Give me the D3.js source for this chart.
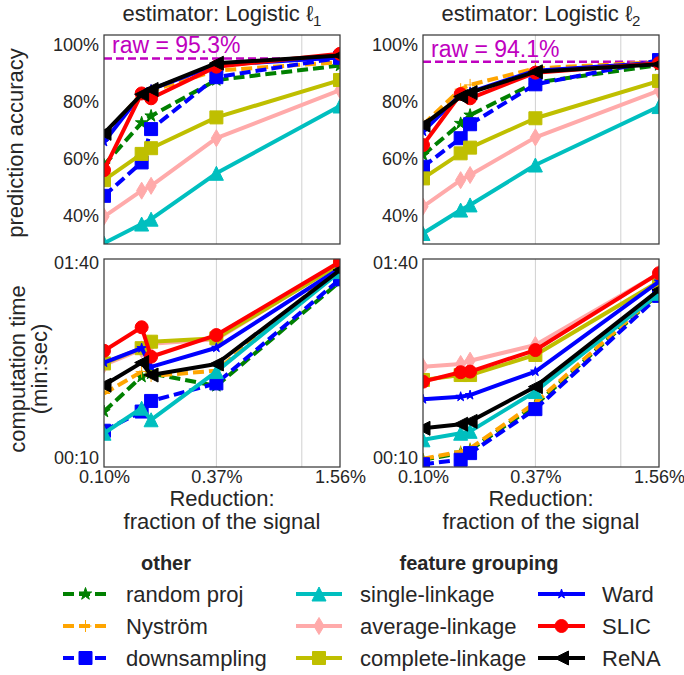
<!DOCTYPE html>
<html>
<head>
<meta charset="utf-8">
<script src="https://cdn.jsdelivr.net/npm/d3@7"></script>
<style>
    body { margin: 0; background: #fff; }
    svg text { font-family: "Liberation Sans", Arial, sans-serif; fill: #262626; }
</style>
</head>
<body>
<svg id="chart" width="684" height="675"></svg>
<script>
// Values
var reductions = [0.10, 0.155, 0.173, 0.37, 1.56]; // fraction of the signal, in %
var methodNames = ["random proj", "Nyström", "downsampling",
    "single-linkage", "average-linkage", "complete-linkage", "Ward", "SLIC", "ReNA"];
var estimatorSubscripts = ["1", "2"];
var rawAccuracy = [95.3, 94.1];

// prediction accuracy (%), one row per method, same order as methodNames
var accuracyL1 = [
    [57.9, 72.7, 75.1, 87.7, 92.8],
    [68.0, 83.0, 84.0, 91.0, 94.0],
    [47.1, 58.8, 70.5, 88.7, 95.5],
    [30.5, 37.2, 38.9, 55.0, 78.6],
    [39.8, 48.9, 50.6, 67.3, 84.2],
    [52.6, 61.8, 63.8, 74.6, 87.7],
    [66.0, 83.0, 84.4, 93.0, 95.6],
    [56.1, 83.0, 81.3, 92.4, 96.9],
    [69.0, 82.7, 84.4, 93.6, 96.3]
];
var accuracyL2 = [
    [61.4, 72.5, 75.4, 86.8, 93.0],
    [72.0, 84.5, 86.0, 91.8, 94.0],
    [57.3, 67.3, 72.2, 86.2, 94.7],
    [33.9, 42.1, 43.9, 57.9, 78.4],
    [43.3, 52.6, 54.4, 67.6, 84.0],
    [53.2, 62.0, 64.0, 74.3, 87.4],
    [69.6, 82.7, 83.5, 91.0, 93.8],
    [64.9, 82.8, 81.3, 90.3, 93.6],
    [71.9, 81.9, 83.3, 90.6, 93.2]
];

// computation time (seconds)
var timeL1 = [
    [17.3, 26.1, 27.1, 23.4, 80.0],
    [21.4, 27.7, 26.3, 28.0, 95.0],
    [13.8, 17.3, 19.6, 24.1, 82.2],
    [13.4, 18.0, 15.7, 27.7, 90.0],
    [30.0, 36.0, 38.5, 40.5, 99.0],
    [30.5, 36.5, 39.4, 41.0, 98.0],
    [30.8, 36.5, 29.3, 36.7, 93.6],
    [35.4, 46.7, 33.0, 42.6, 101.0],
    [23.6, 30.8, 26.6, 30.3, 91.7]
];
var timeL2 = [
    [9.8, 10.6, 11.0, 18.7, 69.7],
    [9.9, 10.8, 11.2, 19.2, 70.5],
    [9.3, 9.8, 10.6, 17.8, 67.6],
    [12.4, 13.4, 13.7, 21.9, 69.7],
    [29.3, 30.3, 31.5, 37.9, 88.0],
    [25.1, 26.6, 26.6, 33.7, 80.0],
    [20.0, 20.6, 21.0, 27.7, 80.0],
    [24.6, 27.5, 27.7, 35.7, 88.3],
    [14.2, 14.9, 15.4, 23.2, 72.5]
];

// Ticks
var xTickValues = [0.10, 0.37, 1.56];
var xGridValues = [0.37, 1.0];
var accTickValues = [40, 60, 80, 100];
var timeTickValues = [10, 100];

// Styles
var methodStyles = [
    { color: "#008000", dash: "11 5", marker: "star", size: 6.5 },
    { color: "#FFA500", dash: "11 5", marker: "plus", size: 6 },
    { color: "#0000FF", dash: "11 5", marker: "square", size: 6.5 },
    { color: "#00BFBF", dash: null, marker: "triangle", size: 7 },
    { color: "#FFAAAA", dash: null, marker: "thin_diamond", size: 8.5 },
    { color: "#BFBF00", dash: null, marker: "square", size: 6.5 },
    { color: "#0000FF", dash: null, marker: "star", size: 5 },
    { color: "#FF0000", dash: null, marker: "circle", size: 6.5 },
    { color: "#000000", dash: null, marker: "triangle_left", size: 7 }
];

var colLeft = [104, 423];
var plotW = 236;
var rowTop = [35, 259];
var rowH = [209, 208];

var svg = d3.select("#chart");

var markerPath = function(kind, s) {
    var pts;
    if (kind === "circle") {
        return "M" + s + ",0A" + s + "," + s + " 0 1,1 " + (-s) + ",0A" + s + "," + s + " 0 1,1 " + s + ",0Z";
    }
    if (kind === "square") pts = [[-s, -s], [s, -s], [s, s], [-s, s]];
    if (kind === "triangle") pts = [[0, -s], [s, s], [-s, s]];
    if (kind === "triangle_left") pts = [[-s, 0], [s, -s], [s, s]];
    if (kind === "thin_diamond") pts = [[0, -s], [s * 0.6, 0], [0, s], [-s * 0.6, 0]];
    if (kind === "plus") return "M" + (-s) + ",0H" + s + "M0," + (-s) + "V" + s;
    if (kind === "star") {
        pts = [];
        for (var i = 0; i < 10; i++) {
            var r = i % 2 === 0 ? s : s * 0.382;
            var a = -Math.PI / 2 + i * Math.PI / 5;
            pts.push([r * Math.cos(a), r * Math.sin(a)]);
        }
    }
    return "M" + pts.join("L") + "Z";
};

var drawMarker = function(sel, style) {
    sel.attr("d", markerPath(style.marker, style.size))
        .attr("fill", style.marker === "plus" ? "none" : style.color)
        .attr("stroke", style.color)
        .attr("stroke-width", 1)
        .attr("stroke-linejoin", "miter");
};

var pad2 = d3.format("02d");
var timeFormat = function(d) {
    return pad2(Math.floor(d / 60)) + ":" + pad2(Math.round(d % 60));
};

var panels = [
    { row: 0, col: 0, data: accuracyL1 },
    { row: 0, col: 1, data: accuracyL2 },
    { row: 1, col: 0, data: timeL1 },
    { row: 1, col: 1, data: timeL2 }
];

panels.forEach(function(p, idx) {
    var h = rowH[p.row];
    var g = svg.append("g")
        .attr("transform", "translate(" + colLeft[p.col] + "," + rowTop[p.row] + ")");

    var x = d3.scaleLog().domain([0.1, 1.56]).range([0, plotW]);
    var y = p.row === 0
        ? d3.scaleLinear().domain([30.2, 103.5]).range([h, 0])
        : d3.scaleLog().domain([9.0, 104.4]).range([h, 0]);

    // vertical grid
    g.selectAll("line.grid")
        .data(xGridValues)
        .enter().append("line")
        .attr("class", "grid")
        .attr("x1", function(d) { return x(d); })
        .attr("x2", function(d) { return x(d); })
        .attr("y1", 0)
        .attr("y2", h)
        .attr("stroke", "#d0d0d0")
        .attr("stroke-width", 1);

    var clipId = "clip-" + idx;
    g.append("clipPath").attr("id", clipId)
        .append("rect").attr("width", plotW).attr("height", h);

    var plot = g.append("g").attr("clip-path", "url(#" + clipId + ")");

    // raw accuracy line
    if (p.row === 0) {
        plot.append("line")
            .attr("x1", 0).attr("x2", plotW)
            .attr("y1", y(rawAccuracy[p.col]))
            .attr("y2", y(rawAccuracy[p.col]))
            .attr("stroke", "#BF00BF")
            .attr("stroke-width", 2.5)
            .attr("stroke-dasharray", "8 4");
    }

    var line = d3.line()
        .x(function(d, i) { return x(reductions[i]); })
        .y(function(d) { return y(d); });

    p.data.forEach(function(values, m) {
        var style = methodStyles[m];
        var sg = plot.append("g");
        sg.append("path")
            .datum(values)
            .attr("d", line)
            .attr("fill", "none")
            .attr("stroke", style.color)
            .attr("stroke-width", 4)
            .attr("stroke-linejoin", "round")
            .attr("stroke-dasharray", style.dash);
        sg.selectAll("path.marker")
            .data(values)
            .enter().append("path")
            .attr("class", "marker")
            .attr("transform", function(d, i) { return "translate(" + x(reductions[i]) + "," + y(d) + ")"; })
            .call(drawMarker, style);
    });

    if (p.row === 0) {
        g.append("text")
            .attr("x", 8)
            .attr("y", y(rawAccuracy[p.col]) - 5)
            .style("font-size", "23px")
            .style("fill", "#BF00BF")
            .text("raw = " + rawAccuracy[p.col] + "%");
    }

    // frame
    g.append("rect")
        .attr("width", plotW).attr("height", h)
        .attr("fill", "none")
        .attr("stroke", "#3a3a3a")
        .attr("stroke-width", 1.25);

    // y axis
    var yAxis = d3.axisLeft(y)
        .tickValues(p.row === 0 ? accTickValues : timeTickValues)
        .tickFormat(p.row === 0 ? function(d) { return d + "%"; } : timeFormat)
        .tickSize(0)
        .tickPadding(5);
    var ya = g.append("g").call(yAxis);
    ya.select(".domain").remove();
    ya.selectAll("text").style("font-size", "18px").style("font-family", null);

    if (p.row === 1) {
        var xAxis = d3.axisBottom(x)
            .tickValues(xTickValues)
            .tickFormat(function(d) { return d3.format(".2f")(d) + "%"; })
            .tickSize(0)
            .tickPadding(3);
        var xa = g.append("g").attr("transform", "translate(0," + h + ")").call(xAxis);
        xa.select(".domain").remove();
        xa.selectAll("text").style("font-size", "18px").style("font-family", null);

        var xl = g.append("text")
            .attr("text-anchor", "middle")
            .attr("x", plotW / 2)
            .style("font-size", "22px");
        xl.append("tspan").attr("x", plotW / 2).attr("y", 506 - rowTop[1]).text("Reduction:");
        xl.append("tspan").attr("x", plotW / 2).attr("y", 529 - rowTop[1]).text("fraction of the signal");
    } else {
        var title = g.append("text")
            .attr("text-anchor", "middle")
            .attr("x", plotW / 2)
            .attr("y", 21 - rowTop[0])
            .style("font-size", "22px");
        title.append("tspan").text("estimator: Logistic ℓ");
        title.append("tspan")
            .attr("dy", 5)
            .style("font-size", "15px")
            .text(estimatorSubscripts[p.col]);
    }
});

// y labels
svg.append("text")
    .attr("transform", "translate(23,143) rotate(-90)")
    .attr("text-anchor", "middle")
    .style("font-size", "22px")
    .text("prediction accuracy");
var tl = svg.append("text")
    .attr("transform", "translate(0,369) rotate(-90)")
    .attr("text-anchor", "middle")
    .style("font-size", "22px");
tl.append("tspan").attr("x", 0).attr("y", 25).text("computation time");
tl.append("tspan").attr("x", 0).attr("y", 47).text("(min:sec)");

// Legend
var legendHeaders = [{ text: "other", x: 166 }, { text: "feature grouping", x: 479 }];
svg.selectAll("text.lhead")
    .data(legendHeaders)
    .enter().append("text")
    .attr("class", "lhead")
    .attr("x", function(d) { return d.x; })
    .attr("y", 563)
    .attr("dy", "0.35em")
    .attr("text-anchor", "middle")
    .style("font-size", "20px")
    .style("font-weight", "bold")
    .text(function(d) { return d.text; });

var legendCols = [{ x0: 63, x1: 108, tx: 126 }, { x0: 296, x1: 342, tx: 360 }, { x0: 538, x1: 585, tx: 602 }];
var legendRows = [594, 626, 658];

methodNames.forEach(function(name, m) {
    var col = legendCols[Math.floor(m / 3)];
    var ry = legendRows[m % 3];
    var style = methodStyles[m];
    var lg = svg.append("g");
    lg.append("line")
        .attr("x1", col.x0).attr("x2", col.x1)
        .attr("y1", ry).attr("y2", ry)
        .attr("stroke", style.color)
        .attr("stroke-width", 4)
        .attr("stroke-dasharray", style.dash);
    lg.append("path")
        .attr("transform", "translate(" + (col.x0 + col.x1) / 2 + "," + ry + ")")
        .call(drawMarker, style);
    lg.append("text")
        .attr("x", col.tx)
        .attr("y", ry)
        .attr("dy", "0.35em")
        .style("font-size", "22px")
        .text(name);
});
</script>
</body>
</html>
